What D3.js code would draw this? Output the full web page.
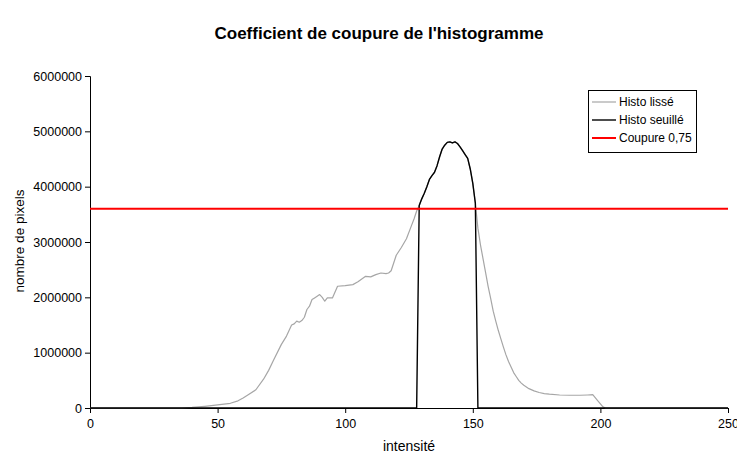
<!DOCTYPE html>
<html>
<head>
<meta charset="utf-8">
<script src="https://cdn.jsdelivr.net/npm/d3@7/dist/d3.min.js"></script>
<style>
  body { margin: 0; background: #fff; }
  svg { display: block; font-family: "Liberation Sans", Arial, sans-serif; }
</style>
</head>
<body>
<svg id="chart" width="737" height="454"></svg>
<script>
// Smoothed histogram (intensity -> pixel count)
const smoothX = [0, 36, 40, 45, 50, 55, 58, 60, 62, 65, 68, 70, 72, 75, 77, 79, 80, 81, 82, 83, 84, 85, 86, 87, 88, 90, 91, 92, 93, 95, 97, 100, 103, 105, 108, 110, 112, 114, 116, 117, 118, 120, 122, 124, 126, 127, 128, 129, 130, 131, 132, 133, 134, 135, 136, 137, 138, 139, 140, 141, 142, 143, 144, 145, 146, 147, 148, 149, 150, 151, 152, 153, 154, 155, 156, 157, 158, 159, 160, 161, 162, 163, 164, 165, 166, 167, 168, 169, 170, 172, 174, 176, 178, 180, 184, 188, 192, 195, 197, 199, 201, 202, 250];
const smoothY = [0, 0, 10000, 30000, 55000, 85000, 130000, 180000, 240000, 330000, 520000, 680000, 870000, 1150000, 1300000, 1500000, 1520000, 1570000, 1550000, 1580000, 1640000, 1780000, 1840000, 1960000, 1990000, 2050000, 2000000, 1930000, 1990000, 1990000, 2200000, 2210000, 2230000, 2280000, 2380000, 2370000, 2410000, 2440000, 2430000, 2440000, 2480000, 2760000, 2900000, 3060000, 3300000, 3420000, 3560000, 3660000, 3780000, 3880000, 4000000, 4130000, 4200000, 4260000, 4380000, 4540000, 4680000, 4750000, 4800000, 4810000, 4790000, 4810000, 4780000, 4720000, 4650000, 4580000, 4510000, 4320000, 4060000, 3700000, 3250000, 2950000, 2700000, 2450000, 2200000, 1980000, 1750000, 1570000, 1400000, 1250000, 1100000, 960000, 840000, 740000, 640000, 570000, 500000, 450000, 410000, 350000, 310000, 280000, 260000, 250000, 235000, 230000, 230000, 235000, 240000, 130000, 20000, 0, 0];

// Thresholded histogram: only the bins above the cut are kept
const threshX = [0, 128, 129, 130, 131, 132, 133, 134, 135, 136, 137, 138, 139, 140, 141, 142, 143, 144, 145, 146, 147, 148, 149, 150, 151, 152, 250];
const threshY = [0, 0, 3660000, 3780000, 3880000, 4000000, 4130000, 4200000, 4260000, 4380000, 4540000, 4680000, 4750000, 4800000, 4810000, 4790000, 4810000, 4780000, 4720000, 4650000, 4580000, 4510000, 4320000, 4060000, 3700000, 0, 0];

// Cut level: 0.75 x peak
const cutX = [0, 250];
const cutY = [3600000, 3600000];

const xTicks = [0, 50, 100, 150, 200, 250];
const yTicks = [0, 1000000, 2000000, 3000000, 4000000, 5000000, 6000000];

const legendLabels = ["Histo lissé", "Histo seuillé", "Coupure 0,75"];
const seriesColors = ["#a6a6a6", "#000000", "#ff0000"];
const seriesWidths = [1.2, 1.4, 2];

const svg = d3.select("#chart");
const margin = { left: 90, right: 9, top: 76, bottom: 46 };
const W = 737, H = 454;

const x = d3.scaleLinear().domain([0, 250]).range([margin.left, W - margin.right]);
const y = d3.scaleLinear().domain([0, 6000000]).range([H - margin.bottom, margin.top]);

// Title
svg.append("text")
  .attr("x", 379).attr("y", 39)
  .attr("text-anchor", "middle")
  .style("font-size", "17px").style("font-weight", "bold")
  .text("Coefficient de coupure de l'histogramme");

// Y axis
const yAxis = svg.append("g")
  .attr("transform", `translate(${margin.left},0)`)
  .call(d3.axisLeft(y).tickValues(yTicks).tickSize(5).tickPadding(3).tickFormat(d3.format("d")));
// X axis
const xAxis = svg.append("g")
  .attr("transform", `translate(0,${H - margin.bottom})`)
  .call(d3.axisBottom(x).tickValues(xTicks).tickSize(5).tickPadding(6).tickFormat(d3.format("d")));

[yAxis, xAxis].forEach(g => {
  g.select(".domain").attr("stroke", "#000").attr("stroke-width", 1);
  g.selectAll(".tick line").attr("stroke", "#000");
  g.selectAll(".tick text").style("font-size", "12.5px").style("font-family", "Liberation Sans, Arial, sans-serif").attr("fill", "#000");
});

// Axis titles
svg.append("text")
  .attr("x", 409).attr("y", 451)
  .attr("text-anchor", "middle")
  .style("font-size", "14px")
  .text("intensité");
svg.append("text")
  .attr("transform", `translate(24,${y(3000000) - 1}) rotate(-90)`)
  .attr("text-anchor", "middle")
  .style("font-size", "13.5px")
  .text("nombre de pixels");

const line = d3.line().x(d => x(d[0])).y(d => y(d[1]));
const series = [
  d3.zip(smoothX, smoothY),
  d3.zip(threshX, threshY),
  d3.zip(cutX, cutY)
];

series.forEach((pts, i) => {
  svg.append("path")
    .datum(pts)
    .attr("fill", "none")
    .attr("stroke", seriesColors[i])
    .attr("stroke-width", seriesWidths[i])
    .attr("stroke-linejoin", "round")
    .attr("d", line);
});

// Legend
const lg = svg.append("g").attr("transform", "translate(588,90)");
lg.append("rect")
  .attr("x", 0.5).attr("y", 0.5).attr("width", 108).attr("height", 62)
  .attr("fill", "#fff").attr("stroke", "#000").attr("stroke-width", 1);
legendLabels.forEach((lab, i) => {
  const cy = 12 + i * 18;
  lg.append("line")
    .attr("x1", 4).attr("x2", 28).attr("y1", cy).attr("y2", cy)
    .attr("stroke", seriesColors[i]).attr("stroke-width", seriesWidths[i]);
  lg.append("text")
    .attr("x", 31).attr("y", cy + 4)
    .style("font-size", "12px")
    .text(lab);
});
</script>
</body>
</html>
